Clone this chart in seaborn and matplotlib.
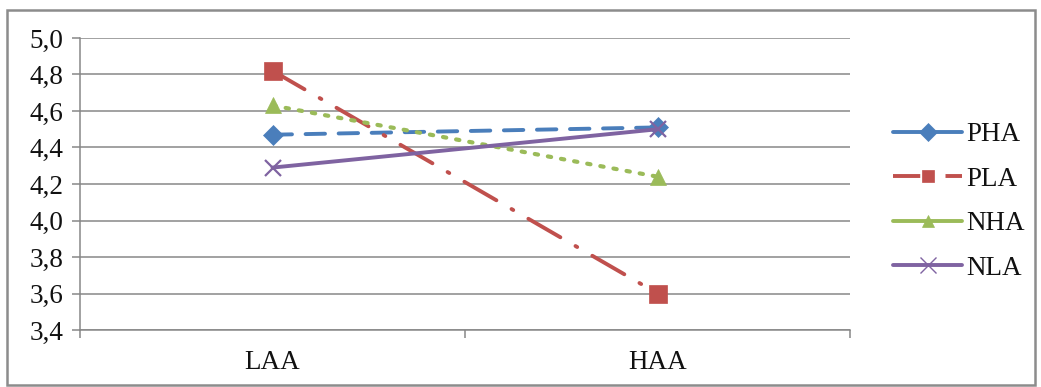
import matplotlib
matplotlib.use("Agg")
import matplotlib.pyplot as plt
from matplotlib.lines import Line2D
from matplotlib.patches import Rectangle
from matplotlib.ticker import FuncFormatter
import seaborn as sns
import pandas as pd

# Mean scores per group at the two activation levels
categories = ["LAA", "HAA"]
groups = ["PHA", "PLA", "NHA", "NLA"]
pha = [4.47, 4.51]
pla = [4.82, 3.60]
nha = [4.63, 4.24]
nla = [4.29, 4.50]
y_ticks = [3.4, 3.6, 3.8, 4.0, 4.2, 4.4, 4.6, 4.8, 5.0]

series = dict(zip(groups, [pha, pla, nha, nla]))
df = pd.DataFrame(
    [(g, c, v) for g in groups for c, v in zip(categories, series[g])],
    columns=["group", "level", "score"],
)

colors = {"PHA": "#4A7EBB", "PLA": "#C0504D", "NHA": "#9BBB59", "NLA": "#7F63A1"}
markers = {"PHA": "D", "PLA": "s", "NHA": "^", "NLA": "x"}
dashes = {"PHA": (5, 3.5), "PLA": (9.5, 4.5, 0.5, 4.5), "NHA": (0.8, 2.4), "NLA": ""}
msizes = {"PHA": 10, "PLA": 13, "NHA": 12, "NLA": 12}

sns.set_theme(style="white")
plt.rcParams["font.family"] = ["Liberation Serif", "DejaVu Serif"]

fig = plt.figure(figsize=(10.41, 3.87), dpi=100)
ax = fig.add_axes([0.0768, 0.147, 0.74, 0.755])

for g in groups:
    sub = df[df["group"] == g]
    sns.lineplot(
        data=sub, x="level", y="score", ax=ax, color=colors[g],
        marker=markers[g], markersize=msizes[g],
        markeredgecolor=colors[g], markeredgewidth=1.6 if g == "NLA" else 0.5,
        linewidth=2.8 if g != "NHA" else 3.0, dashes=False, legend=False,
        sort=False,
    )
    line = ax.lines[-1]
    if dashes[g]:
        line.set_dashes(dashes[g])
        line.set_dash_capstyle("round")
    line.set_zorder(5 if g != "NLA" else 6)

ax.set_xlim(-0.5, 1.5)
ax.set_ylim(3.4, 5.0)
ax.set_yticks(y_ticks)
ax.yaxis.set_major_formatter(FuncFormatter(lambda v, _: f"{v:.1f}".replace(".", ",")))
ax.set_xticks([0, 1])
ax.set_xticklabels(categories)
ax.set_xticks([-0.5, 0.5, 1.5], minor=True)
ax.set_xlabel("")
ax.set_ylabel("")

ax.grid(axis="y", color="#878787", linewidth=1.1)
ax.set_axisbelow(True)
for side in ["top", "right"]:
    ax.spines[side].set_visible(False)
for side in ["left", "bottom"]:
    ax.spines[side].set_color("#878787")
    ax.spines[side].set_linewidth(1.1)

ax.tick_params(axis="y", which="major", left=True, length=6, width=1.1,
               color="#878787", labelsize=19.5, pad=6, labelcolor="#111111")
ax.tick_params(axis="x", which="major", bottom=False, labelsize=19.5, pad=8,
               labelcolor="#111111")
ax.tick_params(axis="x", which="minor", bottom=True, length=6, width=1.1,
               color="#878787")

handles = []
for g in groups:
    ls = (0, (7, 3, 0.5, 3)) if g == "PLA" else "-"
    handles.append(Line2D([], [], color=colors[g], linewidth=2.8, linestyle=ls,
                          marker=markers[g], markersize=9 if g != "NLA" else 12,
                          markeredgewidth=1.0 if g == "NLA" else 0.5,
                          markeredgecolor=colors[g]))
ax.legend(handles, groups, loc="center left", bbox_to_anchor=(1.056, 0.44),
          frameon=False, fontsize=19.5, handlelength=2.55, handletextpad=0.15,
          labelspacing=0.72, borderaxespad=0, borderpad=0, labelcolor="#111111")

fig.patches.append(Rectangle((0.007, 0.005), 0.987, 0.968, transform=fig.transFigure,
                             fill=False, edgecolor="#8c8c8c", linewidth=1.8))

fig.savefig("out.png", dpi=100)
